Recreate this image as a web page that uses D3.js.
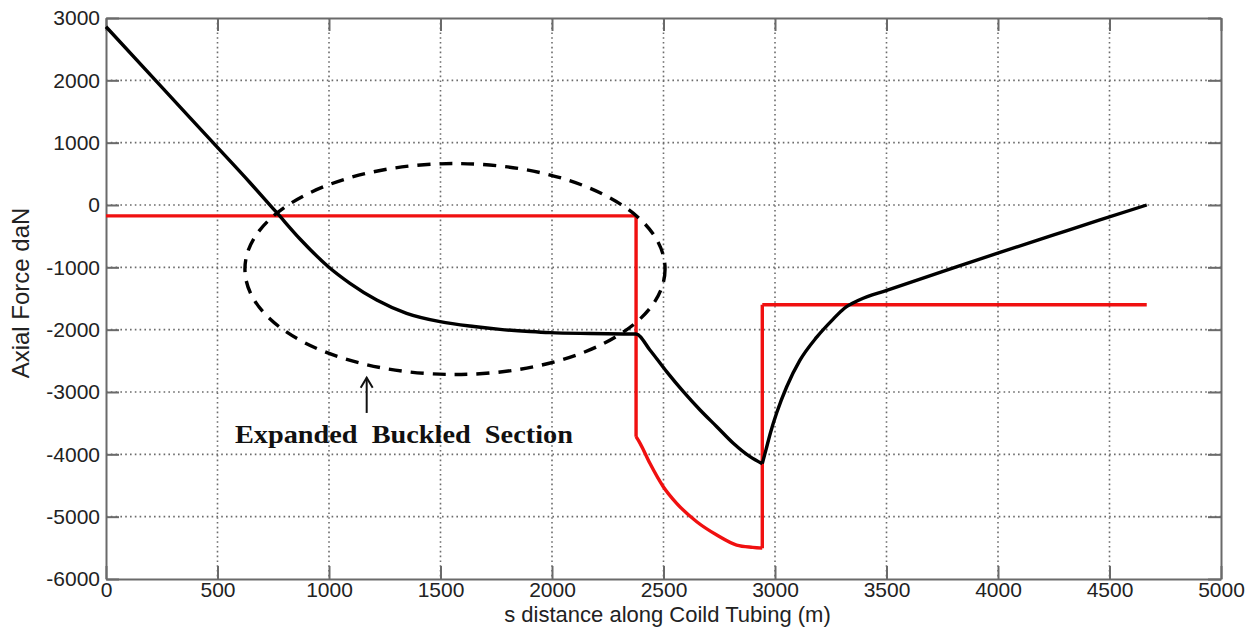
<!DOCTYPE html>
<html>
<head>
<meta charset="utf-8">
<script src="https://cdn.jsdelivr.net/npm/d3@7/dist/d3.min.js"></script>
<style>
  html, body { margin: 0; padding: 0; background: #fff; }
  svg { display: block; }
</style>
</head>
<body>
<svg id="chart" width="1257" height="635"></svg>
<script>
// Axial force along the coiled tubing string (black) and the buckling limit (red)
const axialS = [0, 250, 480, 646, 765, 870, 997, 1094, 1214, 1348, 1498, 1650, 1767, 1900, 1991, 2170, 2320, 2377,
  2439, 2514, 2589, 2664, 2739, 2813, 2888, 2943,
  2960, 2980, 3008, 3052, 3112, 3187, 3261, 3310, 3380, 3501, 3750, 4009, 4250, 4457, 4667];
const axialForce = [2860, 1890, 1000, 357, -120, -545, -990, -1256, -1524, -1738, -1872, -1950, -1995, -2030, -2048, -2062, -2069, -2070,
  -2326, -2674, -2995, -3289, -3557, -3823, -4038, -4150,
  -3920, -3650, -3330, -2920, -2490, -2120, -1830, -1660, -1520, -1370, -1070, -760, -480, -240, 0];

const limitS = [0, 2377, 2377, 2395, 2439, 2499, 2559, 2649, 2739, 2828, 2900, 2943, 2943, 4667];
const limitForce = [-175, -175, -3717, -3823, -4144, -4519, -4786, -5081, -5294, -5455, -5492, -5505, -1600, -1600];

const xTicks = [0, 500, 1000, 1500, 2000, 2500, 3000, 3500, 4000, 4500, 5000];
const yTicks = [3000, 2000, 1000, 0, -1000, -2000, -3000, -4000, -5000, -6000];

// Buckled region outline (ellipse in data units) and its caption
const zone = { s: 1565, f: -1027, rs: 942, rf: 1692 };
const caption = { text: "Expanded  Buckled  Section", s: 578, f: -3818 };
const arrowS = 1169, arrowFrom = -3336, arrowTo = -2770;

const svg = d3.select("#chart");
const plotLeft = 106, plotRight = 1221, plotTop = 18, plotBottom = 579;

const x = d3.scaleLinear().domain([0, 5000]).range([plotLeft, plotRight]);
const y = d3.scaleLinear().domain([-6000, 3000]).range([plotBottom, plotTop]);

const frameColor = "#6a6a6a";
const gridColor = "#6c6c6c";
const sans = "Liberation Sans, Arial, sans-serif";

// grid
const grid = svg.append("g");
grid.selectAll("line.gx").data(xTicks.slice(1, -1)).join("line")
  .attr("x1", d => x(d)).attr("x2", d => x(d))
  .attr("y1", plotTop).attr("y2", plotBottom)
  .attr("stroke", gridColor).attr("stroke-width", 1.6).attr("stroke-dasharray", "1.6,3.2");
grid.selectAll("line.gy").data(yTicks.slice(1, -1)).join("line")
  .attr("x1", plotLeft).attr("x2", plotRight)
  .attr("y1", d => y(d)).attr("y2", d => y(d))
  .attr("stroke", gridColor).attr("stroke-width", 1.6).attr("stroke-dasharray", "1.6,3.2");

// axes with inward ticks on all four sides
const tickLen = 13;
const fmt = d => String(d);
const axisStyle = g => {
  g.attr("font-family", sans).attr("font-size", 21);
  g.select(".domain").attr("stroke", frameColor).attr("stroke-width", 2);
  g.selectAll(".tick line").attr("stroke", frameColor).attr("stroke-width", 2);
  g.selectAll(".tick text").attr("fill", "#222");
};

svg.append("g").attr("transform", `translate(0,${plotBottom})`)
  .call(d3.axisBottom(x).tickValues(xTicks).tickFormat(fmt).tickSizeInner(-tickLen).tickSizeOuter(0).tickPadding(3))
  .call(axisStyle);
svg.append("g").attr("transform", `translate(0,${plotTop})`)
  .call(d3.axisTop(x).tickValues(xTicks).tickFormat("").tickSizeInner(-tickLen).tickSizeOuter(0))
  .call(axisStyle);
svg.append("g").attr("transform", `translate(${plotLeft},0)`)
  .call(d3.axisLeft(y).tickValues(yTicks).tickFormat(fmt).tickSizeInner(-tickLen).tickSizeOuter(0).tickPadding(6))
  .call(axisStyle);
svg.append("g").attr("transform", `translate(${plotRight},0)`)
  .call(d3.axisRight(y).tickValues(yTicks).tickFormat("").tickSizeInner(-tickLen).tickSizeOuter(0))
  .call(axisStyle);

// axis titles
svg.append("text")
  .attr("x", (plotLeft + plotRight) / 2 + 4).attr("y", 622)
  .attr("text-anchor", "middle")
  .attr("font-family", sans).attr("font-size", 22).attr("fill", "#222")
  .text("s distance along Coild Tubing (m)");
svg.append("text")
  .attr("transform", `translate(29,293) rotate(-90)`)
  .attr("text-anchor", "middle")
  .attr("font-family", sans).attr("font-size", 24).attr("fill", "#222")
  .text("Axial Force daN");

// Split a series into monotone runs (vertical steps become their own straight pieces)
function runs(xs, ys) {
  const pts = xs.map((s, i) => [s, ys[i]]);
  const out = [];
  let cur = [pts[0]], kind = null;
  for (let i = 1; i < pts.length; i++) {
    const q = cur[cur.length - 1], p = pts[i];
    const k = p[0] === q[0] ? "v" : Math.sign(p[1] - q[1]);
    if (cur.length >= 2 && k !== kind) { out.push(cur); cur = [q, p]; }
    else cur.push(p);
    kind = k;
  }
  out.push(cur);
  return out;
}

const smooth = d3.line().x(d => x(d[0])).y(d => y(d[1])).curve(d3.curveMonotoneX);
const straight = d3.line().x(d => x(d[0])).y(d => y(d[1]));
const pathFor = seg => (seg[0][0] === seg[seg.length - 1][0] ? straight : smooth)(seg);

function drawSeries(xs, ys, color) {
  svg.append("path")
    .attr("d", runs(xs, ys).map(pathFor).join(""))
    .attr("fill", "none").attr("stroke", color).attr("stroke-width", 3.4)
    .attr("stroke-linejoin", "round").attr("stroke-linecap", "butt");
}

drawSeries(limitS, limitForce, "#f01010");
drawSeries(axialS, axialForce, "#000");

// dashed outline of the buckled section
svg.append("ellipse")
  .attr("cx", x(zone.s)).attr("cy", y(zone.f))
  .attr("rx", x(zone.s + zone.rs) - x(zone.s))
  .attr("ry", y(zone.f - zone.rf) - y(zone.f))
  .attr("fill", "none").attr("stroke", "#000").attr("stroke-width", 3.4)
  .attr("stroke-dasharray", "13,9");

// arrow pointing at the outline
const ax = x(arrowS), ay0 = y(arrowFrom), ay1 = y(arrowTo);
svg.append("line")
  .attr("x1", ax).attr("x2", ax).attr("y1", ay0).attr("y2", ay1)
  .attr("stroke", "#111").attr("stroke-width", 2);
svg.append("path")
  .attr("d", `M${ax - 6},${ay1 + 10} L${ax},${ay1} L${ax + 6},${ay1 + 10}`)
  .attr("fill", "none").attr("stroke", "#111").attr("stroke-width", 2);

svg.append("text")
  .attr("x", x(caption.s)).attr("y", y(caption.f))
  .attr("font-family", "Liberation Serif, Times New Roman, serif")
  .attr("font-weight", "bold").attr("font-size", 26).attr("fill", "#111")
  .attr("textLength", 338).attr("lengthAdjust", "spacingAndGlyphs")
  .style("white-space", "pre")
  .text(caption.text);
</script>
</body>
</html>
